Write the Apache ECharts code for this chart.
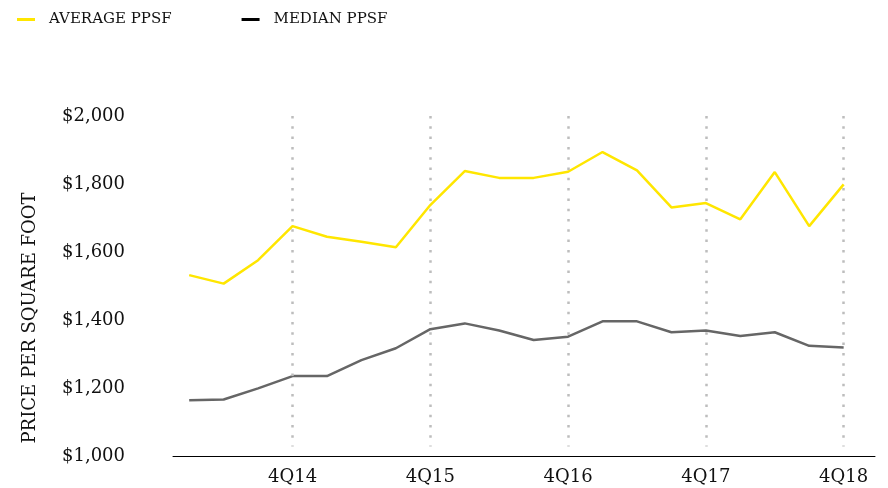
<!DOCTYPE html>
<html>
<head>
<meta charset="utf-8">
<script src="https://cdn.jsdelivr.net/npm/echarts@6/dist/echarts.min.js"></script>
<style>
  html, body { margin: 0; padding: 0; background: #fff; }
  #chart { width: 888px; height: 488px; }
</style>
</head>
<body>
<div id="chart"></div>
<script>
var quarters = ['1Q14', '2Q14', '3Q14', '4Q14', '1Q15', '2Q15', '3Q15', '4Q15', '1Q16', '2Q16',
  '3Q16', '4Q16', '1Q17', '2Q17', '3Q17', '4Q17', '1Q18', '2Q18', '3Q18', '4Q18']
var averagePpsf = [1532, 1507, 1576, 1676, 1645, 1630, 1614, 1738, 1838, 1818,
  1818, 1836, 1894, 1840, 1731, 1744, 1696, 1835, 1676, 1799]
var medianPpsf = [1164, 1166, 1199, 1235, 1235, 1282, 1317, 1373, 1390, 1369,
  1341, 1351, 1396, 1396, 1364, 1369, 1353, 1364, 1324, 1319]
var tickLabels = ['4Q14', '4Q15', '4Q16', '4Q17', '4Q18']

var serif = 'DejaVu Serif'
var tickIdx = tickLabels.map(function (q) { return quarters.indexOf(q) })

function pairs(arr) {
  return arr.map(function (v, i) { return [i, v] })
}

var chart = echarts.init(document.getElementById('chart'))
chart.setOption({
  animation: false,
  backgroundColor: '#fff',
  grid: { left: 173, right: 13, top: 116, bottom: 32 },
  legend: {
    left: 12,
    top: 7,
    icon: 'rect',
    itemWidth: 18,
    itemHeight: 3,
    itemGap: 70,
    textStyle: { fontFamily: serif, fontSize: 15, color: '#111', padding: [0, 0, 0, 9] },
    data: [
      { name: 'AVERAGE PPSF', itemStyle: { color: '#ffe600' } },
      { name: 'MEDIAN PPSF', itemStyle: { color: '#000' } }
    ]
  },
  graphic: [{
    type: 'text',
    x: 30,
    y: 318,
    rotation: Math.PI / 2,
    style: {
      text: 'PRICE PER SQUARE FOOT',
      fontFamily: serif,
      fontSize: 18,
      fill: '#111',
      align: 'center',
      verticalAlign: 'middle'
    }
  }],
  xAxis: {
    type: 'value',
    min: -0.47,
    max: 19.91,
    axisLine: { show: true, lineStyle: { color: '#000', width: 1 } },
    axisTick: { show: false },
    splitLine: { show: false },
    axisLabel: {
      customValues: tickIdx,
      formatter: function (v) { return quarters[Math.round(v)] },
      fontFamily: serif,
      fontSize: 18,
      color: '#111',
      margin: 12
    }
  },
  yAxis: {
    type: 'value',
    min: 1000,
    max: 2000,
    interval: 200,
    axisLine: { show: false },
    axisTick: { show: false },
    splitLine: { show: false },
    axisLabel: {
      formatter: function (v) { return '$' + v.toLocaleString('en-US') },
      fontFamily: serif,
      fontSize: 18,
      color: '#111',
      align: 'left',
      margin: 111
    }
  },
  series: [
    {
      name: 'AVERAGE PPSF',
      type: 'line',
      data: pairs(averagePpsf),
      showSymbol: false,
      z: 3,
      lineStyle: { color: '#ffe600', width: 2.5 },
      itemStyle: { color: '#ffe600' },
      markLine: {
        silent: true,
        symbol: 'none',
        label: { show: false },
        lineStyle: { color: '#bdbdbd', width: 2.5, type: [2.5, 7.8] },
        data: tickIdx.map(function (i) {
          return [{ coord: [i, 2000] }, { coord: [i, 1028] }]
        })
      }
    },
    {
      name: 'MEDIAN PPSF',
      type: 'line',
      data: pairs(medianPpsf),
      showSymbol: false,
      z: 3,
      lineStyle: { color: '#666666', width: 2.5 },
      itemStyle: { color: '#666666' }
    }
  ]
})
</script>
</body>
</html>
